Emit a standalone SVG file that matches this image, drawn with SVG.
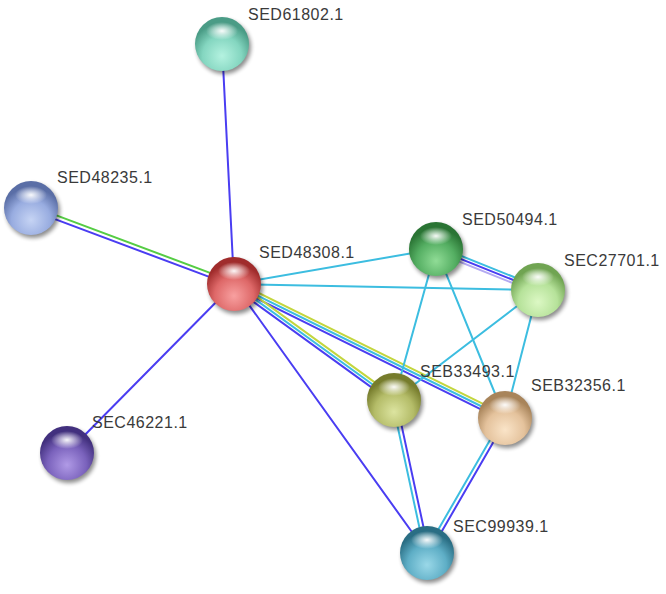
<svg xmlns="http://www.w3.org/2000/svg" width="666" height="594" viewBox="0 0 666 594">
<style>
.e{stroke-width:2;fill:none;stroke-linecap:round}
.b{stroke:#4a3df2}
.c{stroke:#3cbde0}
.y{stroke:#c3d63e}
.g{stroke:#55cc44}
.l{stroke:#b4aaf2}
.lbl{font-family:"Liberation Sans",Arial,sans-serif;font-size:16px;letter-spacing:0.5px;fill:#3a3a3a}
.hl{fill:url(#hl)}
.sh{fill:#000;opacity:0.45;filter:url(#blur)}
</style>
<defs>
<filter id="blur" x="-30%" y="-30%" width="160%" height="160%"><feGaussianBlur stdDeviation="2"/></filter>
<radialGradient id="hl" cx="50%" cy="50%" r="50%"><stop offset="0" stop-color="#fff" stop-opacity="0.95"/><stop offset="1" stop-color="#fff" stop-opacity="0"/></radialGradient>
<radialGradient id="gTeal" cx="50%" cy="72%" r="60%"><stop offset="0" stop-color="#b4f2e0"/><stop offset="0.6" stop-color="#84d6c0"/><stop offset="1" stop-color="#4a9c86"/></radialGradient>
<radialGradient id="gBlue" cx="50%" cy="72%" r="60%"><stop offset="0" stop-color="#c6d4f4"/><stop offset="0.6" stop-color="#98ace0"/><stop offset="1" stop-color="#5a6ea6"/></radialGradient>
<radialGradient id="gRed" cx="50%" cy="72%" r="60%"><stop offset="0" stop-color="#f8a0a0"/><stop offset="0.6" stop-color="#de6868"/><stop offset="1" stop-color="#a02c2c"/></radialGradient>
<radialGradient id="gGreen" cx="50%" cy="72%" r="60%"><stop offset="0" stop-color="#90dc96"/><stop offset="0.6" stop-color="#54ae62"/><stop offset="1" stop-color="#2a7434"/></radialGradient>
<radialGradient id="gLGreen" cx="50%" cy="72%" r="60%"><stop offset="0" stop-color="#dcf8c4"/><stop offset="0.6" stop-color="#b6e29a"/><stop offset="1" stop-color="#70a452"/></radialGradient>
<radialGradient id="gOlive" cx="50%" cy="72%" r="60%"><stop offset="0" stop-color="#dce4a0"/><stop offset="0.6" stop-color="#b4bc68"/><stop offset="1" stop-color="#767c2c"/></radialGradient>
<radialGradient id="gTan" cx="50%" cy="72%" r="60%"><stop offset="0" stop-color="#fae4c8"/><stop offset="0.6" stop-color="#e4c29c"/><stop offset="1" stop-color="#a8845a"/></radialGradient>
<radialGradient id="gPurple" cx="50%" cy="72%" r="60%"><stop offset="0" stop-color="#b09ae6"/><stop offset="0.6" stop-color="#7a62bc"/><stop offset="1" stop-color="#42307e"/></radialGradient>
<radialGradient id="gCyan" cx="50%" cy="72%" r="60%"><stop offset="0" stop-color="#9ad8e8"/><stop offset="0.6" stop-color="#5eaec6"/><stop offset="1" stop-color="#2a6e84"/></radialGradient>
</defs>
<rect width="666" height="594" fill="#fff"/>
<g id="connectors">
<line class="e b" x1="234" y1="284" x2="222" y2="44"/>
<line class="e g" x1="234.7" y1="282.1" x2="31.7" y2="206.1"/>
<line class="e b" x1="233.3" y1="285.9" x2="30.3" y2="209.9"/>
<line class="e b" x1="234" y1="284" x2="67" y2="453"/>
<line class="e b" x1="234" y1="284" x2="427" y2="553"/>
<line class="e c" x1="234" y1="284" x2="436" y2="249"/>
<line class="e c" x1="234" y1="284" x2="538" y2="290"/>
<line class="e y" x1="235.3" y1="281.3" x2="506.3" y2="415.3"/>
<line class="e c" x1="234" y1="284" x2="505" y2="418"/>
<line class="e b" x1="232.7" y1="286.7" x2="503.7" y2="420.7"/>
<line class="e y" x1="235.8" y1="281.6" x2="395.8" y2="397.6"/>
<line class="e c" x1="234" y1="284" x2="394" y2="400"/>
<line class="e b" x1="232.2" y1="286.4" x2="392.2" y2="402.4"/>
<line class="e c" x1="437.1" y1="246.2" x2="539.1" y2="287.2"/>
<line class="e b" x1="436" y1="249" x2="538" y2="290"/>
<line class="e l" x1="434.9" y1="251.8" x2="536.9" y2="292.8"/>
<line class="e c" x1="436" y1="249" x2="394" y2="400"/>
<line class="e c" x1="436" y1="249" x2="505" y2="418"/>
<line class="e c" x1="538" y1="290" x2="394" y2="400"/>
<line class="e c" x1="538" y1="290" x2="505" y2="418"/>
<line class="e c" x1="392" y1="400.4" x2="425" y2="553.4"/>
<line class="e b" x1="396" y1="399.6" x2="429" y2="552.6"/>
<line class="e c" x1="503.3" y1="417" x2="425.3" y2="552"/>
<line class="e b" x1="506.7" y1="419" x2="428.7" y2="554"/>
</g>
<g id="SED61802.1"><circle class="sh" cx="224" cy="47" r="27"/><circle cx="222" cy="44" r="27" fill="url(#gTeal)"/><ellipse class="hl" cx="222" cy="31" rx="16" ry="9"/><text class="lbl" x="248" y="20">SED61802.1</text></g>
<g id="SED48235.1"><circle class="sh" cx="33" cy="211" r="27"/><circle cx="31" cy="208" r="27" fill="url(#gBlue)"/><ellipse class="hl" cx="31" cy="195" rx="16" ry="9"/><text class="lbl" x="57" y="183">SED48235.1</text></g>
<g id="SED48308.1"><circle class="sh" cx="236" cy="287" r="27"/><circle cx="234" cy="284" r="27" fill="url(#gRed)"/><ellipse class="hl" cx="234" cy="271" rx="16" ry="9"/><text class="lbl" x="259" y="258">SED48308.1</text></g>
<g id="SEC46221.1"><circle class="sh" cx="69" cy="456" r="27"/><circle cx="67" cy="453" r="27" fill="url(#gPurple)"/><ellipse class="hl" cx="67" cy="440" rx="16" ry="9"/><text class="lbl" x="92" y="428">SEC46221.1</text></g>
<g id="SED50494.1"><circle class="sh" cx="438" cy="252" r="27"/><circle cx="436" cy="249" r="27" fill="url(#gGreen)"/><ellipse class="hl" cx="436" cy="236" rx="16" ry="9"/><text class="lbl" x="462" y="225">SED50494.1</text></g>
<g id="SEC27701.1"><circle class="sh" cx="540" cy="293" r="27"/><circle cx="538" cy="290" r="27" fill="url(#gLGreen)"/><ellipse class="hl" cx="538" cy="277" rx="16" ry="9"/><text class="lbl" x="564" y="266">SEC27701.1</text></g>
<g id="SEB33493.1"><circle class="sh" cx="396" cy="403" r="27"/><circle cx="394" cy="400" r="27" fill="url(#gOlive)"/><ellipse class="hl" cx="394" cy="387" rx="16" ry="9"/><text class="lbl" x="420" y="377">SEB33493.1</text></g>
<g id="SEB32356.1"><circle class="sh" cx="507" cy="421" r="27"/><circle cx="505" cy="418" r="27" fill="url(#gTan)"/><ellipse class="hl" cx="505" cy="405" rx="16" ry="9"/><text class="lbl" x="531" y="391">SEB32356.1</text></g>
<g id="SEC99939.1"><circle class="sh" cx="429" cy="556" r="27"/><circle cx="427" cy="553" r="27" fill="url(#gCyan)"/><ellipse class="hl" cx="427" cy="540" rx="16" ry="9"/><text class="lbl" x="453" y="532">SEC99939.1</text></g>
</svg>
